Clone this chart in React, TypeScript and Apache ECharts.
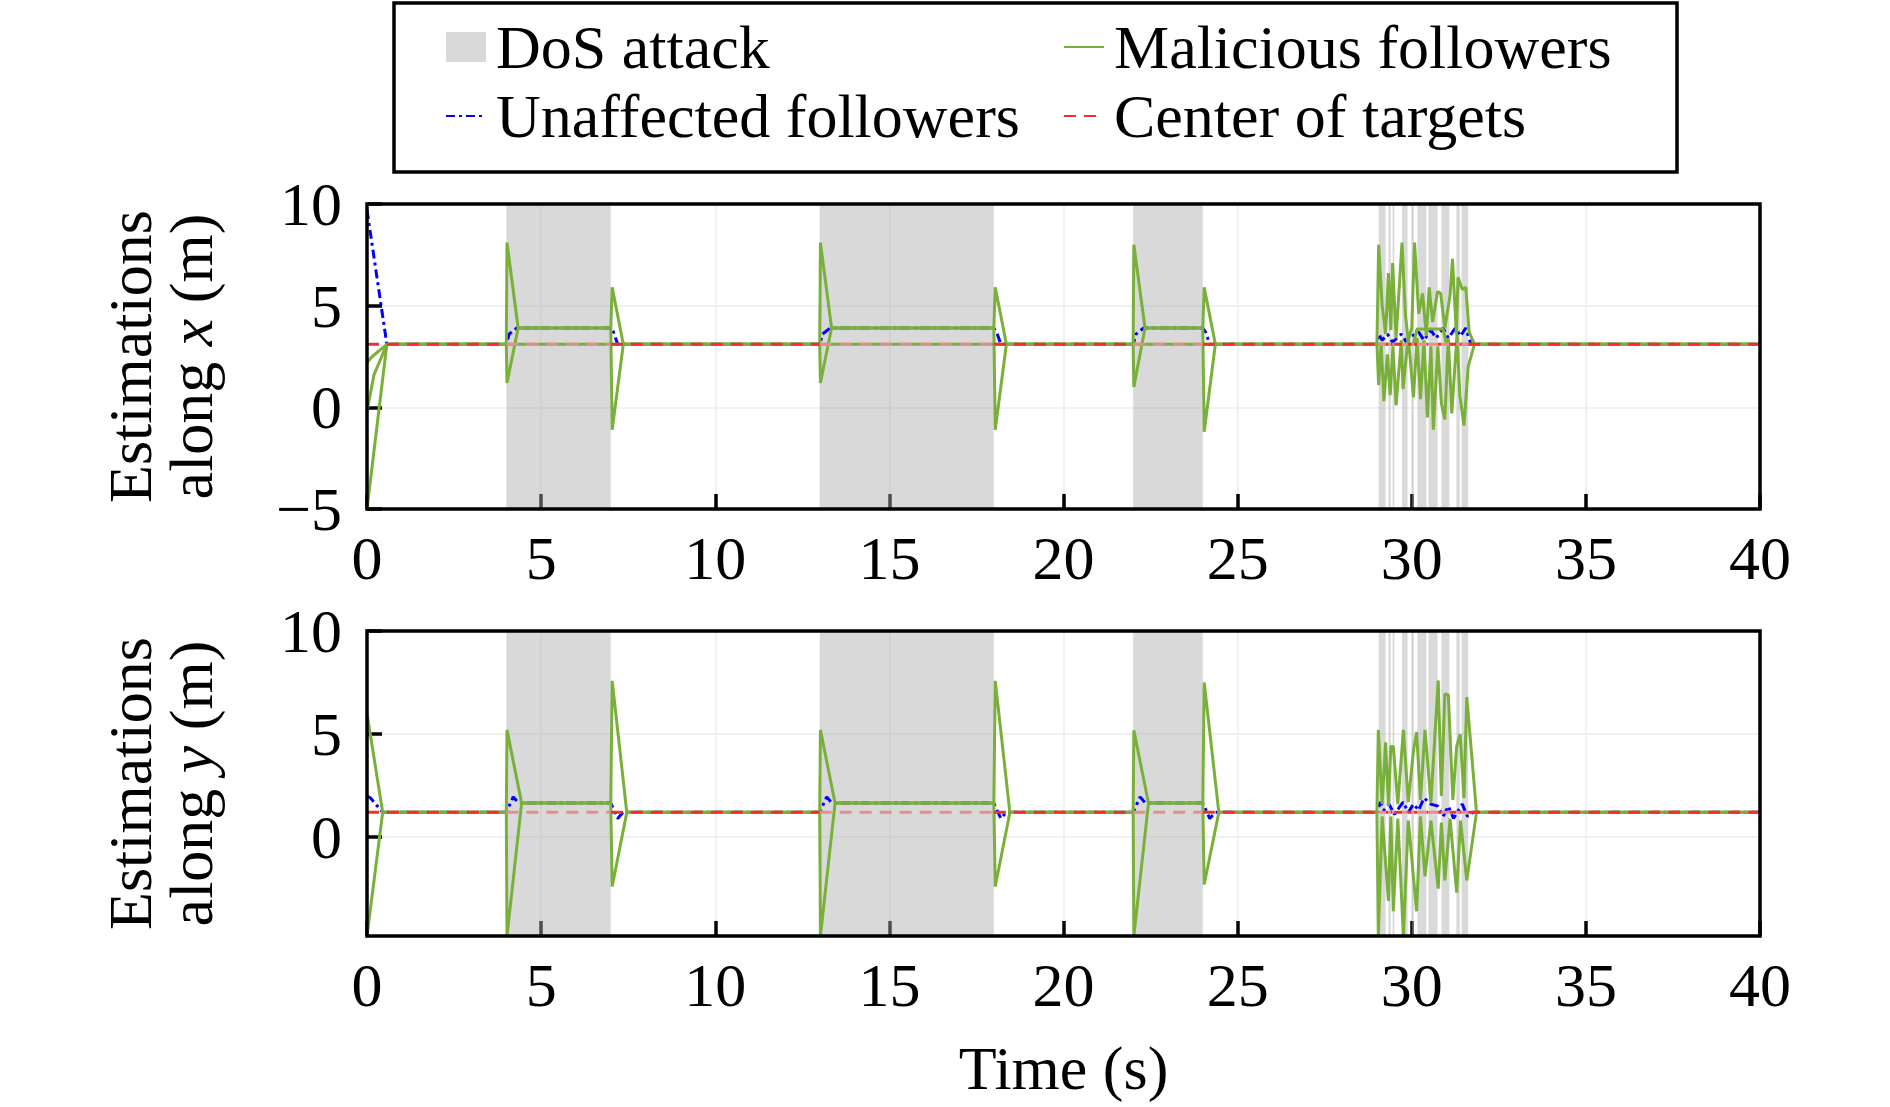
import React, { useEffect, useRef } from 'react';
import * as echarts from 'echarts';

const FONT = 'Liberation Serif';
const FS = 62;

// DoS attack intervals (s)
const dosMain = [[4, 7], [13, 18], [22, 24]];
const dosBurst = [
  [29.05, 29.25], [29.33, 29.4], [29.45, 29.5], [29.72, 29.88], [30.0, 30.06],
  [30.16, 30.42], [30.48, 30.74], [30.85, 31.08], [31.28, 31.38], [31.43, 31.62],
];
const dosIntervals = [...dosMain, ...dosBurst];

// center of targets
const centerX = 3.1;
const centerY = 1.2;

// estimations along x
const malX1 = [
  [0, -5], [0.57, 3.1],
  [4, 3.1], [4.02, 8.1], [4.34, 3.9], [7, 3.9], [7.04, 5.9], [7.36, 3.1],
  [13, 3.1], [13.02, 8.1], [13.34, 3.9], [18, 3.9], [18.04, 5.9], [18.36, 3.1],
  [22, 3.1], [22.02, 8.0], [22.34, 3.9], [24, 3.9], [24.04, 5.9], [24.36, 3.1],
  [29.0, 3.1], [29.05, 8.0], [29.15, 5.0], [29.25, 3.6], [29.33, 6.6], [29.4, 3.8], [29.45, 7.1],
  [29.55, 3.4], [29.72, 8.1], [29.82, 4.5], [29.9, 3.3], [30.0, 3.9], [30.08, 8.1], [30.2, 4.6],
  [30.31, 5.6], [30.42, 3.5], [30.5, 5.9], [30.6, 4.2], [30.74, 5.7], [30.83, 5.6], [30.95, 3.9],
  [31.1, 5.5], [31.17, 7.3], [31.28, 3.6], [31.33, 6.4], [31.45, 5.8], [31.55, 5.9], [31.65, 3.7],
  [31.8, 3.1], [40, 3.1],
];
const malX2 = [
  [0, 2.2], [0.15, 2.5], [0.57, 3.1],
  [4, 3.1], [4.02, 1.2], [4.34, 3.9], [7, 3.9], [7.04, -1.1], [7.36, 3.1],
  [13, 3.1], [13.02, 1.2], [13.34, 3.9], [18, 3.9], [18.04, -1.1], [18.36, 3.1],
  [22, 3.1], [22.02, 1.0], [22.34, 3.9], [24, 3.9], [24.04, -1.2], [24.36, 3.1],
  [29.0, 3.1], [29.05, 1.1], [29.12, 3.2], [29.2, 0.3], [29.3, 2.6], [29.38, 0.6], [29.46, 3.0],
  [29.55, 0.1], [29.7, 3.3], [29.75, 0.9], [29.9, 3.5], [30.05, 0.5], [30.15, 3.4], [30.25, 0.4],
  [30.35, 3.3], [30.45, -0.5], [30.55, 3.0], [30.62, -1.1], [30.75, 3.0], [30.85, 0.2], [30.95, -0.6],
  [31.05, 3.4], [31.15, -0.3], [31.3, 3.6], [31.38, 0.6], [31.5, -0.9], [31.62, 2.0],
  [31.8, 3.1], [40, 3.1],
];
const malX3 = [
  [0, -0.2], [0.2, 1.6], [0.57, 3.1], [30.05, 3.1], [30.15, 3.85], [30.9, 3.85], [31.0, 3.1], [40, 3.1],
];
const unaffX = [
  [0, 9.7], [0.57, 3.1],
  [4, 3.1], [4.08, 3.6], [4.3, 3.9], [7, 3.9], [7.08, 3.7], [7.2, 3.1],
  [13, 3.1], [13.08, 3.6], [13.3, 3.9], [18, 3.9], [18.08, 3.7], [18.2, 3.1],
  [22, 3.1], [22.08, 3.6], [22.3, 3.9], [24, 3.9], [24.08, 3.7], [24.2, 3.1],
  [29.0, 3.1], [29.05, 3.6], [29.15, 3.3], [29.3, 3.6], [29.45, 3.2], [29.7, 3.6], [29.85, 3.2],
  [30.0, 3.5], [30.2, 3.7], [30.35, 3.3], [30.55, 3.8], [30.7, 3.4], [30.9, 3.9], [31.05, 3.4],
  [31.25, 3.9], [31.4, 3.5], [31.55, 3.9], [31.7, 3.1], [40, 3.1],
];

// estimations along y
const malY1 = [
  [0, 6.0], [0.45, 1.2],
  [4, 1.2], [4.02, 5.2], [4.44, 1.65], [7, 1.65], [7.04, 7.58], [7.46, 1.2],
  [13, 1.2], [13.02, 5.2], [13.44, 1.65], [18, 1.65], [18.04, 7.58], [18.46, 1.2],
  [22, 1.2], [22.02, 5.18], [22.44, 1.65], [24, 1.65], [24.04, 7.5], [24.46, 1.2],
  [29.0, 1.2], [29.04, 5.2], [29.15, 1.6], [29.25, 4.6], [29.33, 1.5], [29.4, 4.4], [29.47, 4.4],
  [29.6, 1.6], [29.76, 5.2], [29.9, 1.7], [30.05, 4.2], [30.14, 5.1], [30.25, 1.8], [30.38, 5.2],
  [30.55, 1.7], [30.76, 7.6], [30.85, 2.0], [30.95, 6.95], [31.05, 6.9], [31.18, 1.8], [31.29, 4.4],
  [31.39, 5.0], [31.5, 1.9], [31.58, 6.8], [31.86, 1.2], [40, 1.2],
];
const malY2 = [
  [0, -4.8], [0.45, 1.2],
  [4, 1.2], [4.02, -4.8], [4.44, 1.65], [7, 1.65], [7.04, -2.4], [7.46, 1.2],
  [13, 1.2], [13.02, -4.8], [13.44, 1.65], [18, 1.65], [18.04, -2.4], [18.46, 1.2],
  [22, 1.2], [22.02, -4.8], [22.44, 1.65], [24, 1.65], [24.04, -2.3], [24.46, 1.2],
  [29.0, 1.2], [29.04, -4.8], [29.15, 1.0], [29.33, -3.1], [29.4, 1.0], [29.47, -3.6], [29.6, 0.9],
  [29.76, -4.8], [29.9, 0.8], [30.14, -3.6], [30.25, 1.0], [30.38, -1.9], [30.55, 0.8], [30.76, -2.5],
  [30.85, 0.7], [30.95, -2.1], [31.1, 0.9], [31.29, -2.7], [31.4, 0.8], [31.58, -2.1], [31.86, 1.2],
  [40, 1.2],
];
const unaffY = [
  [0, 2.0], [0.1, 1.9], [0.45, 1.2],
  [4, 1.2], [4.2, 1.95], [4.35, 1.65], [7, 1.65], [7.2, 0.9], [7.35, 1.2],
  [13, 1.2], [13.2, 1.95], [13.35, 1.65], [18, 1.65], [18.2, 0.9], [18.35, 1.2],
  [22, 1.2], [22.2, 1.95], [22.35, 1.65], [24, 1.65], [24.2, 0.9], [24.35, 1.2],
  [29.0, 1.2], [29.1, 1.7], [29.2, 1.3], [29.35, 1.6], [29.5, 1.1], [29.75, 1.7], [29.9, 1.2],
  [30.05, 1.6], [30.2, 1.3], [30.35, 1.9], [30.55, 1.6], [30.75, 1.5], [30.9, 1.0], [31.05, 1.5],
  [31.2, 0.9], [31.45, 1.6], [31.6, 1.0], [31.75, 1.2], [40, 1.2],
];

const GREEN = '#79b03a';
const BLUE = '#0000ff';
const RED = '#f03030';
const PINK = '#e58e8e';
const GRAY = 'rgba(170,170,170,0.45)';

// plot areas in pixels
const PLOT_LEFT = 367;
const PLOT_WIDTH = 1393;
const PLOT_HEIGHT = 305;
const PLOT_TOPS = [204, 631];

// center line: red outside the attacks, lighter inside them
const centerOutside = (c: number) => {
  const out: any[] = [];
  let t0 = 0;
  dosIntervals.forEach(([a, b]) => {
    out.push([t0, c], [a, c], [(a + b) / 2, '-']);
    t0 = b;
  });
  out.push([t0, c], [40, c]);
  return out;
};
const centerInside = (c: number) => {
  const out: any[] = [];
  dosIntervals.forEach(([a, b]) => {
    out.push([a, c], [b, c], [b + 0.01, '-']);
  });
  return out;
};

const line = (name: string, data: any[], idx: number, color: string, type: any, z: number) => ({
  type: 'line',
  name,
  data,
  xAxisIndex: idx,
  yAxisIndex: idx,
  symbol: 'none',
  showSymbol: false,
  connectNulls: false,
  lineStyle: { color, width: 3, type },
  itemStyle: { color, opacity: 0 }, // hides the dot in the legend icon
  z,
  silent: true,
});

const dos = (idx: number) => ({
  type: 'custom',
  name: 'DoS attack',
  xAxisIndex: idx,
  yAxisIndex: idx,
  data: dosIntervals.map(([a, b]) => [a, b, 0]),
  encode: { x: [0, 1], y: 2 },
  itemStyle: { color: GRAY },
  z: 1,
  silent: true,
  renderItem: (params: any, api: any) => {
    const x0 = api.coord([api.value(0), 0])[0];
    const x1 = api.coord([api.value(1), 0])[0];
    const cs = params.coordSys;
    return {
      type: 'rect',
      shape: { x: x0, y: cs.y, width: x1 - x0, height: cs.height },
      style: { fill: api.visual('color') },
    };
  },
});

const labelStyle = { fontFamily: FONT, fontSize: FS, color: '#000' };
const minus = (v: number) => (v < 0 ? '\u2212' + Math.abs(v) : String(v));
const tick = { show: true, inside: true, length: 15, lineStyle: { color: '#000', width: 3.5 } };
const split = { show: true, lineStyle: { color: '#ececec', width: 1.5 } };

const xAxisCfg = (idx: number, withName: boolean) => ({
  type: 'value',
  gridIndex: idx,
  min: 0,
  max: 40,
  interval: 5,
  name: withName ? 'Time (s)' : '',
  nameLocation: 'middle',
  nameGap: 101,
  nameTextStyle: { ...labelStyle, lineHeight: 62 },
  axisLine: { show: false, onZero: false },
  axisTick: tick,
  axisLabel: { ...labelStyle, margin: 18 },
  splitLine: split,
});

const yAxisCfg = (idx: number, min: number, axisLetter: string) => ({
  type: 'value',
  gridIndex: idx,
  min,
  max: 10,
  ...(idx === 0 ? { interval: 5 } : { splitNumber: 3 }),
  name: `Estimations\nalong {i|${axisLetter}} (m)`,
  nameLocation: 'middle',
  nameRotate: 90,
  nameGap: 146,
  nameTextStyle: {
    ...labelStyle,
    lineHeight: 61,
    rich: { i: { fontFamily: FONT, fontSize: FS, fontStyle: 'italic', lineHeight: 61, color: '#000' } },
  },
  axisLine: { show: false, onZero: false },
  axisTick: tick,
  axisLabel: { ...labelStyle, margin: 25, showMinLabel: idx === 0, formatter: minus },
  splitLine: split,
});

const gridCfg = (top: number) => ({
  left: PLOT_LEFT,
  width: PLOT_WIDTH,
  top,
  height: PLOT_HEIGHT,
  show: false,
  containLabel: false,
  outerBoundsMode: 'none',
});

const legendCfg = (left: number, data: any[]) => ({
  orient: 'vertical',
  left,
  top: 11,
  itemGap: 7,
  itemWidth: 40,
  itemHeight: 30,
  data,
  z: 10,
  textStyle: { ...labelStyle, lineHeight: 62, padding: [0, 0, 0, 5] },
});

const App: React.FC = () => {
  const chartRef = useRef<HTMLDivElement>(null);

  useEffect(() => {
    const chart = echarts.init(chartRef.current!, null, { renderer: 'svg' });

    const series: any[] = [];
    [0, 1].forEach((idx) => {
      const c = idx === 0 ? centerX : centerY;
      series.push(dos(idx));
      series.push(line('Unaffected followers', idx === 0 ? unaffX : unaffY, idx, BLUE, [9, 4, 3, 4], 2));
      (idx === 0 ? [malX1, malX2, malX3] : [malY1, malY2]).forEach((d) =>
        series.push(line('Malicious followers', d, idx, GREEN, 'solid', 3))
      );
      series.push(line('Center of targets', centerOutside(c), idx, RED, [12, 8], 4));
      series.push(line('Center of targets', centerInside(c), idx, PINK, [12, 8], 4));
    });

    chart.setOption({
      animation: false,
      textStyle: { fontFamily: FONT },
      graphic: [
        {
          type: 'rect',
          z: 0,
          shape: { x: 394, y: 3, width: 1283, height: 169 },
          style: { fill: '#fff', stroke: '#000', lineWidth: 3.5 },
        },
        ...PLOT_TOPS.map((top) => ({
          type: 'rect',
          z: 100,
          silent: true,
          shape: { x: PLOT_LEFT, y: top, width: PLOT_WIDTH, height: PLOT_HEIGHT },
          style: { fill: 'none', stroke: '#000', lineWidth: 3.5 },
        })),
      ],
      legend: [
        legendCfg(440, [{ name: 'DoS attack', icon: 'rect' }, 'Unaffected followers']),
        legendCfg(1058, ['Malicious followers', 'Center of targets']),
      ],
      grid: PLOT_TOPS.map(gridCfg),
      xAxis: [xAxisCfg(0, false), xAxisCfg(1, true)],
      yAxis: [yAxisCfg(0, -5, 'x'), yAxisCfg(1, -4.8, 'y')],
      series,
    });

    return () => {
      chart.dispose();
    };
  }, []);

  return (
    <div
      ref={chartRef}
      style={{ position: 'absolute', left: 0, top: 0, width: '1890px', height: '1107px', background: '#fff' }}
    />
  );
};

export default App;
